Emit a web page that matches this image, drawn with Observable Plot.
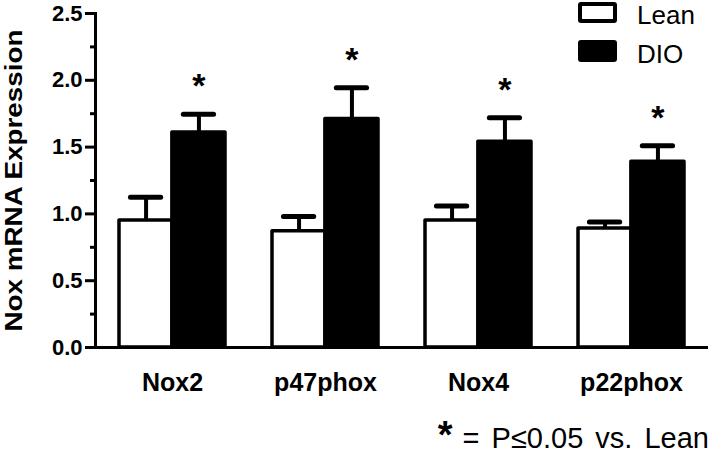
<!DOCTYPE html>
<html>
<head>
<meta charset="utf-8">
<script src="https://cdn.jsdelivr.net/npm/d3@7"></script>
<script src="https://cdn.jsdelivr.net/npm/@observablehq/plot@0.6"></script>
<style>
  html, body { margin: 0; padding: 0; background: #fff; }
  #wrap { position: relative; width: 714px; height: 460px; font-family: "Liberation Sans", Arial, Helvetica, sans-serif; }
  .lg-box { position: absolute; box-sizing: border-box; border: 4px solid #000; border-radius: 3px; }
  .lg-txt { position: absolute; font-size: 26px; line-height: normal; color: #000; }
  #note { position: absolute; right: 5px; top: 418px; font-size: 29px; line-height: 34px; white-space: pre; word-spacing: 4px; }
  #note .star { font-size: 38px; font-weight: bold; margin-right: 10px; }
</style>
</head>
<body>
<div id="wrap"></div>
<script>
// ---- data ----
const categories = ["Nox2", "p47phox", "Nox4", "p22phox"];
const leanMean = [0.95, 0.87, 0.95, 0.89];
const leanSEM  = [0.175, 0.11, 0.11, 0.05];
const dioMean  = [1.61, 1.71, 1.54, 1.39];
const dioSEM   = [0.135, 0.235, 0.18, 0.12];
const significant = [true, true, true, true];
const yMajorTicks = [0, 0.5, 1.0, 1.5, 2.0, 2.5];
const yMinorTicks = [0.25, 0.75, 1.25, 1.75, 2.25];
const groups = ["Lean", "DIO"];
const yLabel = "Nox mRNA Expression";
const footnote = "= P\u22640.05 vs. Lean";

// ---- layout ----
const W = 714, H = 460;
const mL = 95, mR = 6, mT = 13, mB = 113;
const padIn = 0.31, padOut = 0.155;
const step = (W - mL - mR) / (categories.length - padIn + 2 * padOut);
const bw = step * (1 - padIn);   // band width (both bars)
const half = bw / 2, q = bw / 4, capHalf = 15;

const lean = categories.map((c, i) => ({cat: c, mean: leanMean[i], sem: leanSEM[i]}));
const dio  = categories.map((c, i) => ({cat: c, mean: dioMean[i], sem: dioSEM[i], sig: significant[i]}));

const font = '"Liberation Sans", Arial, Helvetica, sans-serif';

const chart = Plot.plot({
  width: W, height: H,
  marginLeft: mL, marginRight: mR, marginTop: mT, marginBottom: mB,
  style: {fontFamily: font, background: "transparent", overflow: "visible", color: "#000"},
  x: {domain: categories, paddingInner: padIn, paddingOuter: padOut, label: null},
  y: {domain: [0, 2.5], label: null},
  marks: [
    // error bars (upper only)
    Plot.ruleX(lean, {x: "cat", y1: "mean", y2: d => d.mean + d.sem, dx: -q, stroke: "#000", strokeWidth: 4}),
    Plot.ruleX(dio,  {x: "cat", y1: "mean", y2: d => d.mean + d.sem, dx:  q, stroke: "#000", strokeWidth: 4}),
    Plot.tickY(lean, {x: "cat", y: d => d.mean + d.sem, insetLeft: q - capHalf, insetRight: bw - q - capHalf, stroke: "#000", strokeWidth: 5, strokeLinecap: "round"}),
    Plot.tickY(dio,  {x: "cat", y: d => d.mean + d.sem, insetLeft: bw - q - capHalf, insetRight: q - capHalf, stroke: "#000", strokeWidth: 5, strokeLinecap: "round"}),
    // bars
    Plot.barY(lean, {x: "cat", y: "mean", insetRight: half, fill: "#fff", stroke: "#000", strokeWidth: 3.5, strokeLinejoin: "round"}),
    Plot.barY(dio,  {x: "cat", y: "mean", insetLeft: half, fill: "#000", stroke: "#000", strokeWidth: 3.5, strokeLinejoin: "round"}),
    // significance stars
    Plot.text(dio.filter(d => d.sig), {x: "cat", y: d => d.mean + d.sem, text: () => "*", dx: q, dy: -28, fontSize: 34, fontWeight: "bold", fill: "#000"}),
    // axes
    Plot.axisY({ticks: yMajorTicks, tickSize: 10, tickPadding: 3, strokeWidth: 3, tickFormat: d3.format(".1f"), fontSize: 22, fontWeight: "bold", label: null}),
    Plot.axisY({ticks: yMinorTicks, tickSize: 5, strokeWidth: 3, tickFormat: () => "", label: null}),
    Plot.axisX({tickSize: 0, tickPadding: 26, fontSize: 25, fontWeight: "bold", label: null}),
    Plot.frame({anchor: "left", strokeWidth: 3}),
    Plot.ruleY([0], {strokeWidth: 3, stroke: "#000"}),
    Plot.text([yLabel], {frameAnchor: "left", textAnchor: "middle", rotate: -90, dx: -81, fontSize: 23, fontWeight: "bold", fill: "#000"})
  ]
});

// the reference's y-axis title is set in a wide face: stretch it to its length
for (const t of chart.querySelectorAll("text")) {
  if (t.textContent === yLabel) {
    t.setAttribute("textLength", "302");
    t.setAttribute("lengthAdjust", "spacingAndGlyphs");
  }
}

const wrap = document.getElementById("wrap");
wrap.appendChild(chart);

// legend (top right, over the plot)
const legendSpec = [
  {name: groups[0], fill: "#fff", top: 2, h: 21, ty: 0},
  {name: groups[1], fill: "#000", top: 40, h: 22, ty: 39}
];
for (const g of legendSpec) {
  const box = document.createElement("div");
  box.className = "lg-box";
  Object.assign(box.style, {left: "578px", top: g.top + "px", width: "39px", height: g.h + "px", background: g.fill});
  wrap.appendChild(box);
  const t = document.createElement("div");
  t.className = "lg-txt";
  t.textContent = g.name;
  Object.assign(t.style, {left: "637px", top: g.ty + "px"});
  wrap.appendChild(t);
}

// footnote
const note = document.createElement("div");
note.id = "note";
note.innerHTML = '<span class="star">*</span>' + footnote;
wrap.appendChild(note);
</script>
</body>
</html>
